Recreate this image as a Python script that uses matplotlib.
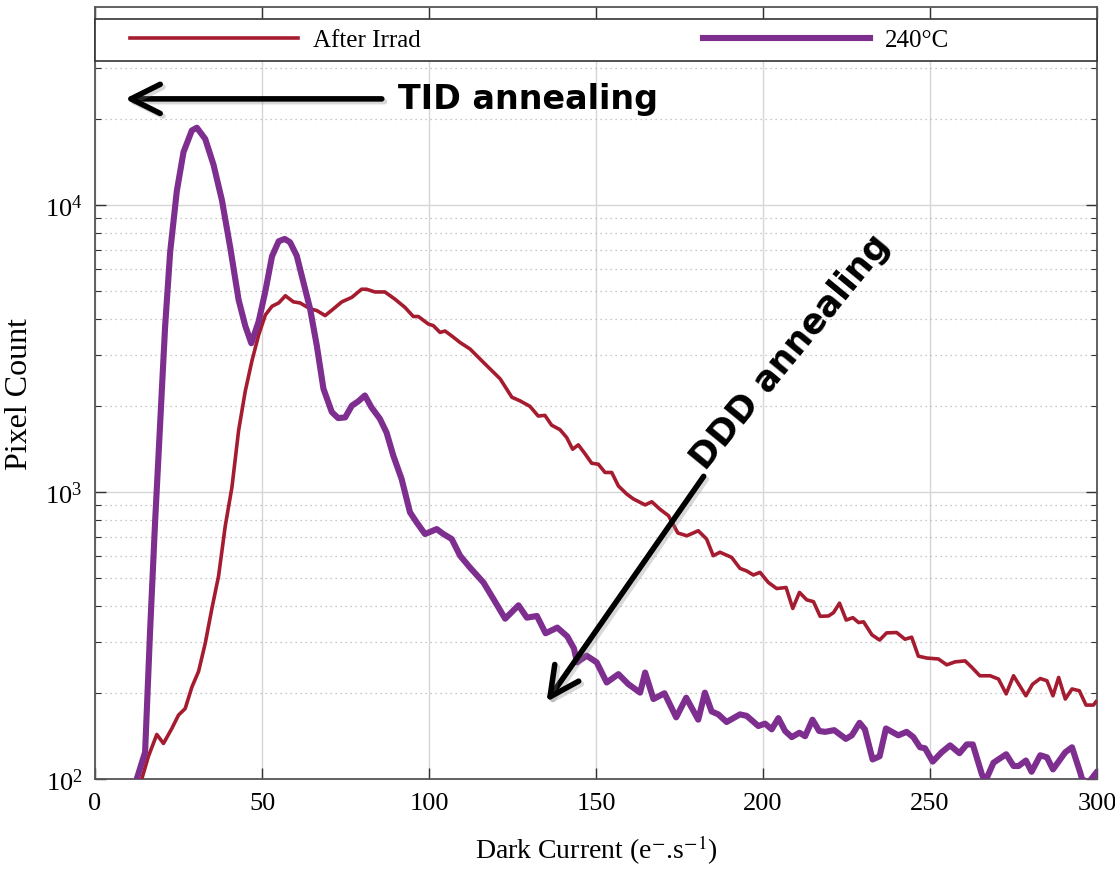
import matplotlib
matplotlib.use("Agg")
import matplotlib.pyplot as plt
import matplotlib.patheffects as pe
from matplotlib.patches import Rectangle
from matplotlib.ticker import LogLocator, MultipleLocator

plt.rcParams["font.family"] = ["Liberation Serif", "DejaVu Serif"]
plt.rcParams["mathtext.fontset"] = "stix"

# --- dados (corrente de escuro em e-/s, contagem de pixels) ---
x_irrad = [14, 16, 18.5, 20.5, 23, 25, 27, 29, 31, 33, 35, 37, 39, 41, 43, 45, 47, 49,
           51, 53, 55, 57, 59.4, 61.4, 64.4, 66.4, 68.9, 71.4, 73.9, 76.9, 79.8, 81.3,
           83.8, 86.8, 89.8, 92.8, 95.3, 96.8, 99.8, 101.3, 103.3, 104.8, 106.8, 109.3,
           112.3, 116.3, 121.3, 124.8, 127.2, 130.2, 132.7, 134.7, 136.7, 139.2, 141.2,
           143, 144.7, 146.7, 148.7, 150.7, 152.7, 154.7, 156.7, 159.2, 161.2, 164.7,
           166.7, 169.2, 171.7, 174.5, 177.2, 180.6, 183.1, 185.1, 187.1, 190.6, 193.1,
           195.1, 197.1, 199.1, 201.6, 204.1, 206.9, 208.9, 210.9, 213.1, 215.1, 217.1,
           219.6, 221.1, 222.9, 224.9, 226.9, 228.6, 230.1, 232.6, 234.9, 237, 240,
           242.5, 244.5, 246.5, 249, 252.5, 255, 257.5, 260.5, 262.5, 264.9, 268, 270.5,
           272.8, 275, 278.7, 280.7, 283, 285, 286.8, 288.5, 290.5, 292.5, 294.7, 296.7,
           298.9, 299.7]
y_irrad = [100, 120, 143, 133, 150, 167, 176, 209, 237, 297, 393, 510, 762, 1040, 1640,
           2250, 2870, 3530, 4140, 4440, 4560, 4830, 4600, 4560, 4350, 4290, 4120, 4350,
           4600, 4770, 5090, 5090, 4980, 4980, 4700, 4400, 4090, 4090, 3850, 3800, 3600,
           3640, 3500, 3320, 3150, 2830, 2480, 2140, 2080, 1990, 1840, 1850, 1710, 1650,
           1550, 1410, 1460, 1360, 1260, 1250, 1170, 1170, 1050, 984, 946, 902, 925, 870,
           827, 720, 704, 733, 686, 600, 617, 592, 542, 531, 514, 525, 484, 461, 465, 393,
           447, 421, 415, 369, 370, 380, 410, 358, 365, 351, 353, 318, 305, 323, 324, 307,
           312, 268, 264, 262, 250, 256, 258, 245, 229, 229, 223, 198, 229, 195, 214, 224,
           220, 195, 226, 190, 206, 203, 181, 181, 186]

x_240 = [12.5, 15, 16.5, 18, 19, 20, 21, 22.5, 24.5, 26.5, 29, 30.5, 33, 35.5, 38, 40.5,
         43, 45, 46.8, 49, 51, 53, 55, 56.8, 58.4, 60.4, 62.4, 64.4, 66.4, 68.4, 70.9,
         72.8, 74.9, 76.9, 78.8, 80.8, 82.8, 85.3, 87.3, 89.3, 91.8, 94.3, 96.3, 98.8,
         102.3, 104.3, 106.8, 109.3, 112.3, 116.3, 119.5, 122.8, 126.8, 129.3, 132.3,
         134.9, 138.4, 141.4, 143.4, 144.3, 147.2, 150.2, 153.2, 156.7, 159.7, 163.2,
         164.7, 167.2, 170.5, 174, 177, 180.6, 182.6, 184.6, 186.6, 189.1, 193.1, 195.1,
         198.6, 200.6, 202.6, 204.6, 206.6, 208.6, 210.9, 212.6, 214.8, 216.8, 218.6,
         221.3, 224.8, 226.6, 228.9, 230.5, 232.8, 234.9, 236.8, 240.5, 243, 245, 247,
         248.5, 250.8, 253.5, 256, 258.8, 261, 262.8, 265.5, 266.5, 267.5, 269, 272.8,
         275, 276.5, 278.7, 280.4, 283, 285, 286.8, 290.5, 292.5, 295, 295.5, 297.4,
         299.7]
y_240 = [100, 124, 330, 790, 1330, 2250, 3790, 6860, 11200, 15300, 18200, 18600, 17000,
         13800, 10400, 7100, 4670, 3790, 3300, 3930, 5010, 6630, 7480, 7620, 7420, 6660,
         5380, 4350, 3240, 2290, 1900, 1810, 1820, 2000, 2070, 2170, 1970, 1800, 1610,
         1340, 1110, 850, 784, 714, 743, 714, 686, 600, 545, 484, 420, 362, 403, 365, 370,
         322, 337, 314, 285, 255, 269, 255, 217, 232, 214, 200, 235, 190, 199, 164, 192,
         161, 200, 172, 168, 158, 168, 166, 153, 156, 149, 163, 147, 140, 145, 141, 161,
         147, 146, 148, 138, 142, 157, 149, 117, 120, 150, 142, 146, 140, 129, 128, 115,
         124, 131, 123, 132, 132, 104, 98, 104, 114, 122, 111, 111, 116, 106, 121, 119,
         108, 124, 129, 105, 100, 97, 105]

COR_IRRAD = "#A51C30"
COR_240 = "#7D2E8F"

fig = plt.figure(figsize=(11.15, 8.79), dpi=100)
ax = fig.add_axes([0.0852, 0.1126, 0.8987, 0.8783])

ax.plot(x_irrad, y_irrad, color=COR_IRRAD, lw=2.6, label="After Irrad", zorder=3)
ax.plot(x_240, y_240, color=COR_240, lw=4.4, label="240°C", zorder=3)

ax.set_yscale("log")
ax.set_xlim(0, 300)
ax.set_ylim(100, 4.9e4)
ax.xaxis.set_major_locator(MultipleLocator(50))
ax.yaxis.set_major_locator(LogLocator(base=10, numticks=10))
ax.yaxis.set_minor_locator(LogLocator(base=10, subs=range(2, 10), numticks=20))

ax.grid(which="major", axis="both", color="#d6d6d6", lw=1.0, ls="-")
ax.grid(which="minor", axis="y", color="#b5b5b5", lw=0.9, ls=(0, (1, 3)))
ax.set_axisbelow(True)

for s in ax.spines.values():
    s.set_color("#555555")
    s.set_linewidth(1.3)
ax.tick_params(which="both", direction="in", top=True, right=True, colors="#333333",
               labelcolor="black", labelsize=19)
ax.tick_params(which="major", length=8, width=1)
ax.tick_params(which="minor", length=4, width=0.8)
ax.tick_params(axis="x", which="minor", top=False, bottom=False)
ax.tick_params(axis="x", pad=9)
ax.tick_params(axis="y", pad=9)

ax.set_xlabel("Dark Current (e$^{-}$.s$^{-1}$)", fontsize=20, labelpad=14)
ax.set_ylabel("Pixel Count", fontsize=23, labelpad=8)

# caixa da legenda atravessando o topo
ax.add_patch(Rectangle((0, 0.930), 1, 0.054, transform=ax.transAxes, facecolor="white",
                       edgecolor="#333333", lw=1.2, zorder=5, clip_on=False))
ax.legend(loc="center left", bbox_to_anchor=(0.025, 0.957), ncol=2, frameon=False,
          fontsize=18, handlelength=6.7, handletextpad=0.6, columnspacing=11.3,
          borderaxespad=0).set_zorder(6)

# setas de recozimento
sombra = [pe.SimpleLineShadow(offset=(2, -2), alpha=0.3, shadow_color="gray"), pe.Normal()]
ax.annotate("", xy=(0.027, 0.881), xytext=(0.289, 0.881), xycoords="axes fraction",
            arrowprops=dict(arrowstyle="->,head_length=0.7,head_width=0.35", lw=4,
                            color="black", mutation_scale=30, path_effects=sombra),
            zorder=4)
ax.text(0.302, 0.881, "TID annealing", transform=ax.transAxes, fontsize=24,
        fontweight="bold", family="DejaVu Sans", va="center", ha="left", zorder=4)

ax.annotate("", xy=(0.449, 0.097), xytext=(0.609, 0.395), xycoords="axes fraction",
            arrowprops=dict(arrowstyle="->,head_length=0.7,head_width=0.35", lw=4,
                            color="black", mutation_scale=30, path_effects=sombra),
            zorder=4)
ax.text(0.694, 0.554, "DDD annealing", transform=ax.transAxes, fontsize=25,
        fontweight="bold", family="DejaVu Sans", va="center", ha="center",
        rotation=50.6, rotation_mode="anchor", zorder=4)

fig.savefig("out.png", dpi=100)
